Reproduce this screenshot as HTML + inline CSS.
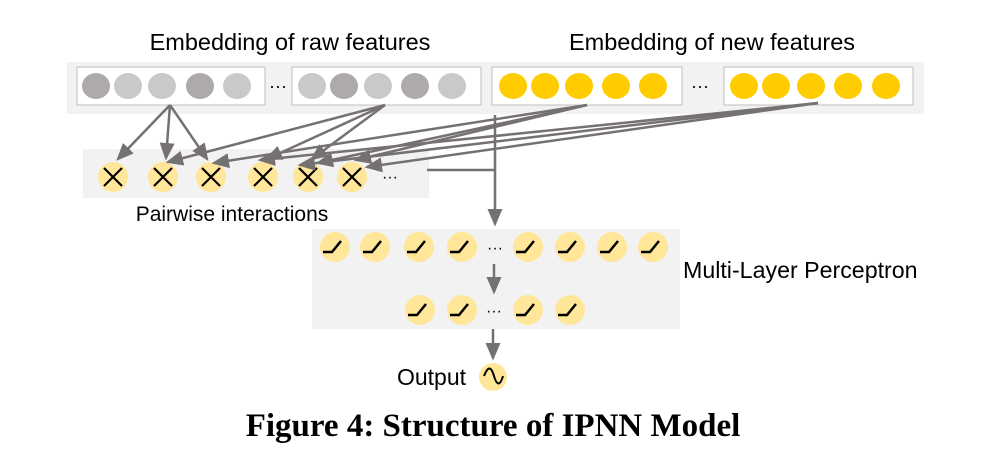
<!DOCTYPE html>
<html><head><style>body{margin:0;background:#fff}svg{display:block}</style></head><body>
<svg width="994" height="472" viewBox="0 0 994 472" xmlns="http://www.w3.org/2000/svg" font-family="Liberation Sans, sans-serif">
<defs><marker id="a" markerWidth="7" markerHeight="6" refX="6" refY="3" orient="auto" markerUnits="strokeWidth"><path d="M0,0 L7,3 L0,6 z" fill="#767171"/></marker></defs>
<text x="290" y="50" font-size="23.5" text-anchor="middle" fill="#000">Embedding of raw features</text>
<text x="712" y="50" font-size="23.5" text-anchor="middle" fill="#000">Embedding of new features</text>
<rect x="67" y="62" width="857" height="52" fill="#f2f2f2"/>
<rect x="77" y="67" width="188" height="38" fill="#fff" stroke="#bfbfbf"/>
<rect x="292" y="67" width="189" height="38" fill="#fff" stroke="#bfbfbf"/>
<rect x="492" y="67" width="190" height="38" fill="#fff" stroke="#bfbfbf"/>
<rect x="724" y="67" width="189" height="38" fill="#fff" stroke="#bfbfbf"/>
<g>
<ellipse cx="96" cy="86" rx="14" ry="13" fill="#aeaaaa"/><ellipse cx="128" cy="86" rx="14" ry="13" fill="#c9c9c9"/><ellipse cx="162" cy="86" rx="14" ry="13" fill="#c9c9c9"/><ellipse cx="200" cy="86" rx="14" ry="13" fill="#aeaaaa"/><ellipse cx="237" cy="86" rx="14" ry="13" fill="#c9c9c9"/>
<ellipse cx="312" cy="86" rx="14" ry="13" fill="#c9c9c9"/><ellipse cx="344" cy="86" rx="14" ry="13" fill="#aeaaaa"/><ellipse cx="378" cy="86" rx="14" ry="13" fill="#c9c9c9"/><ellipse cx="415" cy="86" rx="14" ry="13" fill="#aeaaaa"/><ellipse cx="452" cy="86" rx="14" ry="13" fill="#c9c9c9"/>
<ellipse cx="513" cy="86" rx="14" ry="13" fill="#ffcc00"/><ellipse cx="545" cy="86" rx="14" ry="13" fill="#ffcc00"/><ellipse cx="579" cy="86" rx="14" ry="13" fill="#ffcc00"/><ellipse cx="616" cy="86" rx="14" ry="13" fill="#ffcc00"/><ellipse cx="653" cy="86" rx="14" ry="13" fill="#ffcc00"/>
<ellipse cx="744" cy="86" rx="14" ry="13" fill="#ffcc00"/><ellipse cx="776" cy="86" rx="14" ry="13" fill="#ffcc00"/><ellipse cx="811" cy="86" rx="14" ry="13" fill="#ffcc00"/><ellipse cx="848" cy="86" rx="14" ry="13" fill="#ffcc00"/><ellipse cx="886" cy="86" rx="14" ry="13" fill="#ffcc00"/>
</g>
<text x="278" y="92" font-size="18" text-anchor="middle">···</text>
<text x="700" y="92" font-size="18" text-anchor="middle">···</text>
<rect x="83" y="149" width="346" height="49" fill="#f2f2f2"/>
<g fill="#ffe699">
<circle cx="113" cy="177" r="15"/><circle cx="163" cy="177" r="15"/><circle cx="211" cy="177" r="15"/><circle cx="263" cy="177" r="15"/><circle cx="308" cy="177" r="15"/><circle cx="352" cy="177" r="15"/>
</g>
<g stroke="#000" stroke-width="2.2">
<path d="M104,168 l18,18 M122,168 l-18,18"/><path d="M154,168 l18,18 M172,168 l-18,18"/><path d="M202,168 l18,18 M220,168 l-18,18"/><path d="M254,168 l18,18 M272,168 l-18,18"/><path d="M299,168 l18,18 M317,168 l-18,18"/><path d="M343,168 l18,18 M361,168 l-18,18"/>
</g>
<text x="390" y="182" font-size="16" text-anchor="middle">···</text>
<text x="232" y="221" font-size="21" text-anchor="middle">Pairwise interactions</text>
<g stroke="#767171" stroke-width="2.5" fill="none" marker-end="url(#a)">
<path d="M170,105 L118,159"/><path d="M170,105 L166,158"/><path d="M170,105 L207,159"/>
<path d="M385,105 L168,162"/><path d="M385,105 L267,159"/><path d="M385,105 L312,159"/>
<path d="M587,105 L214,163"/><path d="M587,105 L318,163"/><path d="M587,105 L356,160"/>
<path d="M818,103 L260,160"/><path d="M818,103 L300,165"/><path d="M818,103 L367,167"/>
</g>
<g stroke="#767171" stroke-width="2.5" fill="none">
<path d="M427,170 H495"/><path d="M495,115 V224" marker-end="url(#a)"/>
</g>
<rect x="312" y="229" width="368" height="100" fill="#f2f2f2"/>
<g fill="#ffe699">
<circle cx="335" cy="247" r="15"/><circle cx="375" cy="247" r="15"/><circle cx="419" cy="247" r="15"/><circle cx="462" cy="247" r="15"/><circle cx="528" cy="247" r="15"/><circle cx="570" cy="247" r="15"/><circle cx="612" cy="247" r="15"/><circle cx="653" cy="247" r="15"/>
<circle cx="420" cy="310" r="15"/><circle cx="462" cy="310" r="15"/><circle cx="528" cy="310" r="15"/><circle cx="570" cy="310" r="15"/>
<circle cx="493" cy="377" r="14"/>
</g>
<g stroke="#000" stroke-width="2.5" fill="none">
<path d="M323,252 h9 l9,-11"/><path d="M363,252 h9 l9,-11"/><path d="M407,252 h9 l9,-11"/><path d="M450,252 h9 l9,-11"/><path d="M516,252 h9 l9,-11"/><path d="M558,252 h9 l9,-11"/><path d="M600,252 h9 l9,-11"/><path d="M641,252 h9 l9,-11"/>
<path d="M408,315 h9 l9,-11"/><path d="M450,315 h9 l9,-11"/><path d="M516,315 h9 l9,-11"/><path d="M558,315 h9 l9,-11"/>
<path d="M484,376 C488,366 491,366 494,376 C497,386 500,386 503,376" stroke-width="2"/>
</g>
<text x="495" y="253" font-size="16" text-anchor="middle">···</text>
<text x="494" y="316" font-size="16" text-anchor="middle">···</text>
<g stroke="#767171" stroke-width="2.5" fill="none" marker-end="url(#a)">
<path d="M494,264 V292"/><path d="M493,329 V358"/>
</g>
<text x="683" y="278" font-size="23.2">Multi-Layer Perceptron</text>
<text x="466" y="385" font-size="23" text-anchor="end">Output</text>
<text x="493" y="436" font-size="33" font-weight="bold" text-anchor="middle" font-family="Liberation Serif, serif">Figure 4: Structure of IPNN Model</text>
</svg>
</body></html>
